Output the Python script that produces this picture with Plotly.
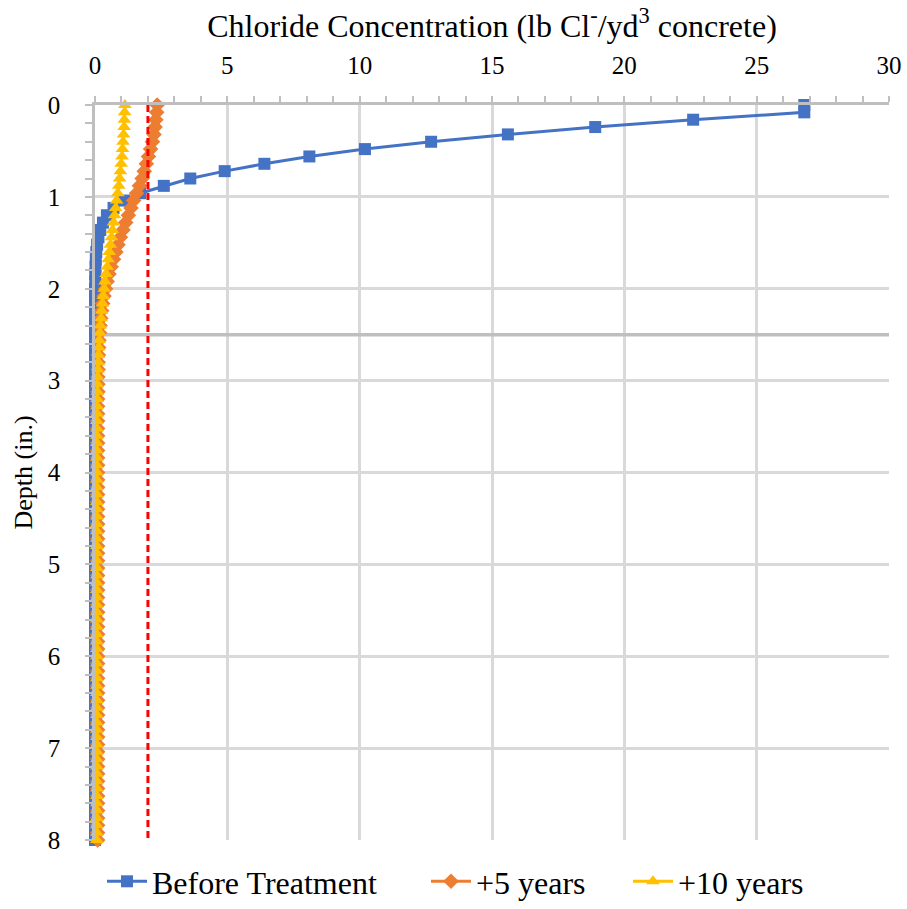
import plotly.graph_objects as go

# ---------------- data ----------------
depth_in = [0.00, 0.08, 0.16, 0.24, 0.32, 0.40, 0.48, 0.56, 0.64, 0.72,
            0.80, 0.88, 0.96, 1.04, 1.12, 1.20, 1.28, 1.36, 1.44, 1.52,
            1.60, 1.68, 1.76, 1.84, 1.92, 2.00, 2.08, 2.16, 2.24, 2.32,
            2.40, 2.48, 2.56, 2.64, 2.72, 2.80, 2.88, 2.96, 3.04, 3.12,
            3.20, 3.28, 3.36, 3.44, 3.52, 3.60, 3.68, 3.76, 3.84, 3.92,
            4.00, 4.08, 4.16, 4.24, 4.32, 4.40, 4.48, 4.56, 4.64, 4.72,
            4.80, 4.88, 4.96, 5.04, 5.12, 5.20, 5.28, 5.36, 5.44, 5.52,
            5.60, 5.68, 5.76, 5.84, 5.92, 6.00, 6.08, 6.16, 6.24, 6.32,
            6.40, 6.48, 6.56, 6.64, 6.72, 6.80, 6.88, 6.96, 7.04, 7.12,
            7.20, 7.28, 7.36, 7.44, 7.52, 7.60, 7.68, 7.76, 7.84, 7.92,
            8.00]

before_treatment = [26.8, 26.8, 22.6, 18.9, 15.6, 12.7, 10.2, 8.1, 6.4, 4.9,
                    3.6, 2.6, 1.7, 1.1, 0.7, 0.45, 0.3, 0.2, 0.13, 0.08,
                    0.05, 0.03, 0.02, 0.01, 0.01, 0.0, 0.0, 0.0, 0.0, 0.0,
                    0.0, 0.0, 0.0, 0.0, 0.0, 0.0, 0.0, 0.0, 0.0, 0.0,
                    0.0, 0.0, 0.0, 0.0, 0.0, 0.0, 0.0, 0.0, 0.0, 0.0,
                    0.0, 0.0, 0.0, 0.0, 0.0, 0.0, 0.0, 0.0, 0.0, 0.0,
                    0.0, 0.0, 0.0, 0.0, 0.0, 0.0, 0.0, 0.0, 0.0, 0.0,
                    0.0, 0.0, 0.0, 0.0, 0.0, 0.0, 0.0, 0.0, 0.0, 0.0,
                    0.0, 0.0, 0.0, 0.0, 0.0, 0.0, 0.0, 0.0, 0.0, 0.0,
                    0.0, 0.0, 0.0, 0.0, 0.0, 0.0, 0.0, 0.0, 0.0, 0.0,
                    0.0]

plus_5_years = [2.35, 2.33, 2.30, 2.27, 2.23, 2.17, 2.10, 2.02, 1.94, 1.86,
                1.78, 1.68, 1.57, 1.46, 1.36, 1.26, 1.16, 1.06, 0.96, 0.87,
                0.79, 0.70, 0.61, 0.53, 0.46, 0.40, 0.34, 0.29, 0.25, 0.22,
                0.19, 0.17, 0.15, 0.14, 0.13, 0.12, 0.12, 0.11, 0.11, 0.11,
                0.10, 0.10, 0.10, 0.10, 0.10, 0.10, 0.10, 0.10, 0.10, 0.10,
                0.10, 0.10, 0.10, 0.10, 0.10, 0.10, 0.10, 0.10, 0.10, 0.10,
                0.10, 0.10, 0.10, 0.10, 0.10, 0.10, 0.10, 0.10, 0.10, 0.10,
                0.10, 0.10, 0.10, 0.10, 0.10, 0.10, 0.10, 0.10, 0.10, 0.10,
                0.10, 0.10, 0.10, 0.10, 0.10, 0.10, 0.10, 0.10, 0.10, 0.10,
                0.10, 0.10, 0.10, 0.10, 0.10, 0.10, 0.10, 0.10, 0.10, 0.10,
                0.10]

plus_10_years = [1.13, 1.12, 1.11, 1.10, 1.08, 1.06, 1.04, 1.02, 0.99, 0.96,
                 0.93, 0.90, 0.86, 0.82, 0.78, 0.74, 0.70, 0.66, 0.62, 0.58,
                 0.54, 0.50, 0.46, 0.42, 0.38, 0.35, 0.31, 0.28, 0.25, 0.23,
                 0.20, 0.18, 0.16, 0.14, 0.13, 0.12, 0.11, 0.10, 0.09, 0.09,
                 0.08, 0.08, 0.08, 0.07, 0.07, 0.07, 0.07, 0.07, 0.07, 0.07,
                 0.07, 0.07, 0.07, 0.07, 0.07, 0.07, 0.07, 0.07, 0.07, 0.07,
                 0.07, 0.07, 0.07, 0.07, 0.07, 0.07, 0.07, 0.07, 0.07, 0.07,
                 0.07, 0.07, 0.07, 0.07, 0.07, 0.07, 0.07, 0.07, 0.07, 0.07,
                 0.07, 0.07, 0.07, 0.07, 0.07, 0.07, 0.07, 0.07, 0.07, 0.07,
                 0.07, 0.07, 0.07, 0.07, 0.07, 0.07, 0.07, 0.07, 0.07, 0.07,
                 0.07]

threshold_x = [2.0, 2.0]          # corrosion threshold line
threshold_depth = [0.0, 8.0]
ref_depth = [2.5, 2.5]            # horizontal reference depth
ref_x = [-0.25, 30.0]

series_names = ["Before Treatment", "+5 years", "+10 years"]
x_tick_vals = [0, 5, 10, 15, 20, 25, 30]
y_tick_vals = [0, 1, 2, 3, 4, 5, 6, 7, 8]

# ---------------- figure ----------------
FONT = "'Liberation Serif', 'Times New Roman', Times, serif"
BLUE, ORANGE, YELLOW = "#4472C4", "#ED7D31", "#FFC000"

fig = go.Figure()

fig.add_trace(go.Scatter(x=ref_x, y=ref_depth, mode="lines",
                         line=dict(color="#BFBFBF", width=3.5),
                         showlegend=False, hoverinfo="skip", cliponaxis=False))

fig.add_trace(go.Scatter(x=before_treatment, y=depth_in, mode="lines+markers",
                         name=series_names[0], legend="legend",
                         line=dict(color=BLUE, width=3),
                         marker=dict(symbol="square", size=12, color=BLUE),
                         cliponaxis=False))
fig.add_trace(go.Scatter(x=plus_5_years, y=depth_in, mode="lines+markers",
                         name=series_names[1], legend="legend2",
                         line=dict(color=ORANGE, width=3),
                         marker=dict(symbol="diamond", size=12, color=ORANGE),
                         cliponaxis=False))
fig.add_trace(go.Scatter(x=plus_10_years, y=depth_in, mode="lines+markers",
                         name=series_names[2], legend="legend3",
                         line=dict(color=YELLOW, width=3),
                         marker=dict(symbol="triangle-up", size=12, color=YELLOW),
                         cliponaxis=False))

fig.add_trace(go.Scatter(x=threshold_x, y=threshold_depth, mode="lines",
                         line=dict(color="#FF0000", width=3, dash="7px,4px"),
                         showlegend=False, hoverinfo="skip", cliponaxis=False))

def leg(xpos):
    return dict(orientation="h", xref="container", x=xpos, xanchor="left",
                yref="container", y=0.0, yanchor="bottom",
                font=dict(family=FONT, size=32, color="black"),
                itemwidth=40, bgcolor="rgba(0,0,0,0)")

fig.update_layout(
    width=907, height=909,
    margin=dict(l=95, r=18, t=105, b=69, autoexpand=False),
    paper_bgcolor="white", plot_bgcolor="white",
    font=dict(family=FONT, size=22, color="black"),
    legend=leg(102 / 907), legend2=leg(426 / 907), legend3=leg(628 / 907),
)

fig.update_xaxes(
    side="top", range=[0, 30], tickvals=x_tick_vals,
    showgrid=True, gridcolor="#D9D9D9", gridwidth=2.5,
    zeroline=False, showline=True, linecolor="#BFBFBF", linewidth=2.5,
    ticks="outside", ticklen=6, tickwidth=2, tickcolor="#BFBFBF",
    minor=dict(dtick=1, ticks="outside", ticklen=6, tickwidth=2,
               tickcolor="#BFBFBF", showgrid=False),
    tickfont=dict(family=FONT, size=25, color="black"),
    ticklabelstandoff=12,
    title=dict(text="Chloride Concentration (lb Cl<sup>-</sup>/yd<sup>3</sup> concrete)",
               font=dict(family=FONT, size=32, color="black"), standoff=6),
)

fig.update_yaxes(
    range=[8, 0], tickvals=y_tick_vals,
    showgrid=True, gridcolor="#D9D9D9", gridwidth=2.5,
    zeroline=False, showline=True, linecolor="#BFBFBF", linewidth=2.5,
    ticks="outside", ticklen=7, tickwidth=2, tickcolor="#BFBFBF",
    minor=dict(dtick=0.2, ticks="outside", ticklen=7, tickwidth=2,
               tickcolor="#BFBFBF", showgrid=False),
    tickfont=dict(family=FONT, size=25, color="black"),
    ticklabelstandoff=20,
    title=dict(text="Depth (in.)", font=dict(family=FONT, size=26, color="black"),
               standoff=8),
)

fig.write_html("out.html")
